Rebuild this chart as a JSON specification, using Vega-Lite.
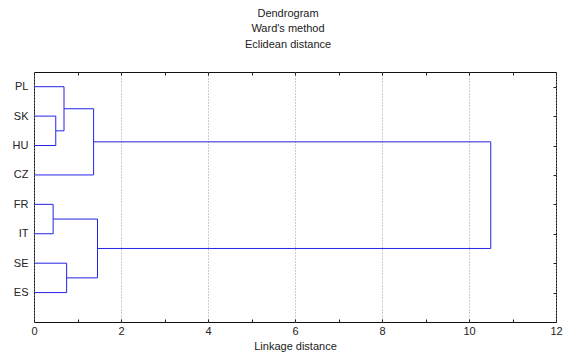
{
  "$schema": "https://vega.github.io/schema/vega-lite/v6.json",
  "width": 522,
  "height": 250,
  "autosize": {"type": "none"},
  "padding": {"left": 34, "top": 72, "right": 8, "bottom": 32},
  "background": "white",
  "title": {
    "text": ["Dendrogram", "Ward's method", "Eclidean distance"],
    "font": "Liberation Sans",
    "fontSize": 11,
    "fontWeight": "normal",
    "color": "#222",
    "lineHeight": 15.5,
    "anchor": "middle",
    "dx": -7,
    "offset": 22
  },
  "config": {
    "view": {"stroke": "#111", "strokeWidth": 1},
    "axis": {"labelFont": "Liberation Sans", "titleFont": "Liberation Sans", "labelColor": "#222", "titleColor": "#222", "labelFontSize": 11, "titleFontSize": 11, "titleFontWeight": "normal", "domain": false}
  },
  "data": {
    "values": [
      {"x": 0, "x2": 0.69, "y": 1, "y2": 1},
      {"x": 0, "x2": 0.5, "y": 2, "y2": 2},
      {"x": 0, "x2": 0.5, "y": 3, "y2": 3},
      {"x": 0, "x2": 1.37, "y": 4, "y2": 4},
      {"x": 0, "x2": 0.44, "y": 5, "y2": 5},
      {"x": 0, "x2": 0.44, "y": 6, "y2": 6},
      {"x": 0, "x2": 0.75, "y": 7, "y2": 7},
      {"x": 0, "x2": 0.75, "y": 8, "y2": 8},
      {"x": 0.5, "x2": 0.69, "y": 2.5, "y2": 2.5},
      {"x": 0.69, "x2": 1.37, "y": 1.75, "y2": 1.75},
      {"x": 1.37, "x2": 10.5, "y": 2.875, "y2": 2.875},
      {"x": 0.44, "x2": 1.46, "y": 5.5, "y2": 5.5},
      {"x": 0.75, "x2": 1.46, "y": 7.5, "y2": 7.5},
      {"x": 1.46, "x2": 10.5, "y": 6.5, "y2": 6.5},
      {"x": 0.5, "x2": 0.5, "y": 2, "y2": 3},
      {"x": 0.69, "x2": 0.69, "y": 1, "y2": 2.5},
      {"x": 1.37, "x2": 1.37, "y": 1.75, "y2": 4},
      {"x": 0.44, "x2": 0.44, "y": 5, "y2": 6},
      {"x": 0.75, "x2": 0.75, "y": 7, "y2": 8},
      {"x": 1.46, "x2": 1.46, "y": 5.5, "y2": 7.5},
      {"x": 10.5, "x2": 10.5, "y": 2.875, "y2": 6.5}
    ]
  },
  "resolve": {"axis": {"x": "independent", "y": "independent"}},
  "layer": [
    {
      "mark": {"type": "rule", "color": "#2323e6", "strokeWidth": 1},
      "encoding": {
        "x": {
          "field": "x", "type": "quantitative",
          "scale": {"domain": [0, 12], "nice": false, "zero": false},
          "axis": {
            "orient": "bottom",
            "title": "Linkage distance",
            "titlePadding": 4,
            "values": [0,1,2,3,4,5,6,7,8,9,10,11,12],
            "labelExpr": "datum.value % 2 == 0 ? datum.label : ''",
            "tickSize": -3,
            "tickColor": "#222",
            "labelPadding": 6,
            "labelFlush": false,
            "grid": true,
            "gridDash": [1, 2],
            "gridColor": "#999",
            "gridOpacity": {"condition": {"test": "datum.value % 2 == 0", "value": 1}, "value": 0}
          }
        },
        "x2": {"field": "x2"},
        "y": {
          "field": "y", "type": "quantitative",
          "scale": {"domain": [0.5, 9], "nice": false, "zero": false, "reverse": true},
          "axis": {
            "orient": "left",
            "title": null,
            "values": [1,2,3,4,5,6,7,8],
            "labelExpr": "['PL','SK','HU','CZ','FR','IT','SE','ES'][datum.value - 1]",
            "ticks": false,
            "labelPadding": 6,
            "grid": false
          }
        },
        "y2": {"field": "y2"}
      }
    },
    {
      "mark": {"type": "rule", "opacity": 0},
      "encoding": {
        "x": {
          "field": "x", "type": "quantitative",
          "scale": {"domain": [0, 12], "nice": false, "zero": false},
          "axis": {"orient": "top", "title": null, "labels": false, "values": [0,1,2,3,4,5,6,7,8,9,10,11,12], "tickSize": -3, "tickColor": "#222", "grid": false}
        },
        "y": {
          "field": "y", "type": "quantitative",
          "scale": {"domain": [0.5, 9], "nice": false, "zero": false, "reverse": true},
          "axis": {"orient": "right", "title": null, "labels": false, "values": [1,2,3,4,5,6,7,8], "tickSize": -3, "tickColor": "#222", "grid": false}
        }
      }
    }
  ]
}
